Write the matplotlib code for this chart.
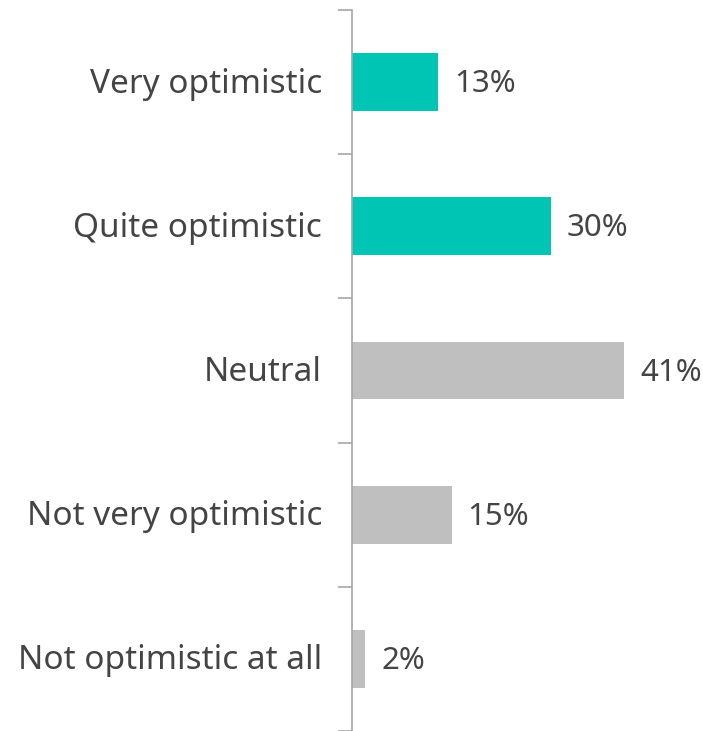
import matplotlib.pyplot as plt
from matplotlib.transforms import offset_copy

categories = ["Very optimistic", "Quite optimistic", "Neutral",
              "Not very optimistic", "Not optimistic at all"]
values = [13, 30, 41, 15, 2]
colors = ["#00C4B4", "#00C4B4", "#BFBFBF", "#BFBFBF", "#BFBFBF"]

plt.rcParams['font.family'] = ['Noto Sans', 'DejaVu Sans']
TXT = "#444444"
FS = 24

fig = plt.figure(figsize=(7.03, 7.31), dpi=100)
ax = fig.add_axes([352 / 703, 0.0, 351 / 703, 1 - 10 / 731])

y = list(range(len(categories)))
ax.barh(y, values, height=0.4, color=colors)
ax.set_xlim(0, 52.9)
ax.set_ylim(len(categories) - 0.5, -0.5)

for yi, v in zip(y, values):
    ax.text(v, yi, f"{v}%", va="center", ha="left", fontsize=22.5,
            fontweight="light", color=TXT,
            transform=offset_copy(ax.transData, fig=fig, x=16, y=-2, units="dots"))

# category labels, ticks sit between categories
ax.set_yticks([i - 0.5 for i in range(len(categories) + 1)])
ax.set_yticklabels([])
ax.tick_params(axis="y", length=10, width=1.2, color="#A6A6A6")
for yi, c in zip(y, categories):
    ax.text(0, yi, c, va="center", ha="right", fontsize=FS,
            fontweight="light", color=TXT,
            transform=offset_copy(ax.transData, fig=fig, x=-30, y=-2, units="dots"))

ax.set_xticks([])
for s in ["top", "right", "bottom"]:
    ax.spines[s].set_visible(False)
ax.spines["left"].set_color("#A6A6A6")
ax.spines["left"].set_linewidth(1.2)

fig.savefig("out.png", dpi=100)
